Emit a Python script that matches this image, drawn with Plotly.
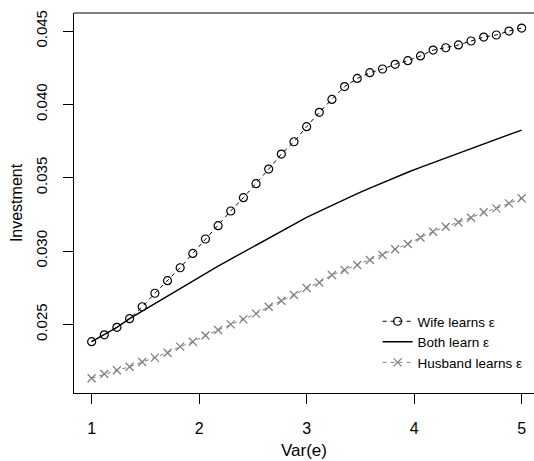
import plotly.graph_objects as go

# x grid: 35 points from 1 to 5
n_pts = 35
var_e = [1 + i * 4 / 34 for i in range(n_pts)]

wife = [0.02382, 0.02429, 0.02480, 0.02539, 0.02620, 0.02712, 0.02798, 0.02886,
        0.02984, 0.03082, 0.03173, 0.03273, 0.03364, 0.03459, 0.03559, 0.03661,
        0.03745, 0.03848, 0.03946, 0.04034, 0.04121, 0.04177, 0.04216, 0.04241,
        0.04273, 0.04298, 0.04330, 0.04370, 0.04386, 0.04405, 0.04432, 0.04459,
        0.04473, 0.04500, 0.04520]

both = [0.02382, 0.02429, 0.02480, 0.02539, 0.02590, 0.02642, 0.02694, 0.02745,
        0.02797, 0.02849, 0.02897, 0.02945, 0.02993, 0.03040, 0.03087, 0.03134,
        0.03181, 0.03229, 0.03271, 0.03312, 0.03352, 0.03391, 0.03429, 0.03466,
        0.03502, 0.03537, 0.03571, 0.03603, 0.03635, 0.03667, 0.03699, 0.03731,
        0.03762, 0.03794, 0.03825]

husband = [0.02132, 0.02161, 0.02187, 0.02211, 0.02243, 0.02273, 0.02307, 0.02348,
           0.02382, 0.02424, 0.02461, 0.02500, 0.02534, 0.02573, 0.02620, 0.02661,
           0.02700, 0.02748, 0.02786, 0.02836, 0.02871, 0.02905, 0.02939, 0.02973,
           0.03012, 0.03048, 0.03092, 0.03132, 0.03166, 0.03196, 0.03227, 0.03264,
           0.03291, 0.03325, 0.03360]

x_ticks = [1, 2, 3, 4, 5]
y_ticks = [0.025, 0.030, 0.035, 0.040, 0.045]
y_tick_labels = ["0.025", "0.030", "0.035", "0.040", "0.045"]

FONT = "Liberation Sans, Arial, Helvetica, sans-serif"
GRAY = "#808080"

fig = go.Figure()
fig.add_trace(go.Scatter(
    x=var_e, y=wife, mode="lines+markers", name="Wife learns ε",
    line=dict(color="black", width=1, dash="4px,4px"),
    marker=dict(symbol="circle-open", size=8, color="black", line=dict(width=1.2, color="black")),
))
fig.add_trace(go.Scatter(
    x=var_e, y=both, mode="lines", name="Both learn ε",
    line=dict(color="black", width=1.4),
))
fig.add_trace(go.Scatter(
    x=var_e, y=husband, mode="lines+markers", name="Husband learns ε",
    line=dict(color=GRAY, width=1, dash="4px,4px"),
    marker=dict(symbol="x-thin-open", size=8, color=GRAY, line=dict(width=1.3, color=GRAY)),
))

fig.update_layout(
    width=534, height=461,
    margin=dict(l=74, r=0, t=13, b=68, autoexpand=False),
    paper_bgcolor="white", plot_bgcolor="white",
    font=dict(family=FONT, size=15, color="black"),
    showlegend=True,
    legend=dict(
        x=0.66, y=0.229, xanchor="left", yanchor="top",
        bgcolor="rgba(0,0,0,0)", borderwidth=0,
        font=dict(family=FONT, size=13.5, color="black"),
        itemwidth=30, tracegroupgap=0,
    ),
    xaxis=dict(
        range=[0.836, 5.115], tickvals=x_ticks, ticktext=[str(v) for v in x_ticks],
        showgrid=False, zeroline=False, showline=True, linecolor="black", linewidth=1,
        ticks="outside", ticklen=10, tickcolor="black", tickwidth=1,
        tickfont=dict(size=16), ticklabelstandoff=11, ticklabeloverflow="allow",
        title=dict(text="Var(e)", font=dict(size=17), standoff=7),
        automargin=False,
    ),
    yaxis=dict(
        range=[0.02032, 0.04623], tickvals=y_ticks, ticktext=y_tick_labels,
        showgrid=False, zeroline=False, showline=True, linecolor="black", linewidth=1,
        ticks="outside", ticklen=10, tickcolor="black", tickwidth=1,
        tickangle=-90, tickfont=dict(size=15), ticklabelstandoff=10,
        title=dict(text="Investment", font=dict(size=16), standoff=6),
        automargin=False,
    ),
    shapes=[dict(type="line", xref="paper", yref="paper", x0=0, x1=1, y0=1, y1=1,
                 line=dict(color="black", width=1))],
)

fig.write_html(
    "out.html",
    config={"displayModeBar": False},
    post_script="document.body.style.margin='0';document.body.style.overflow='hidden';",
)
